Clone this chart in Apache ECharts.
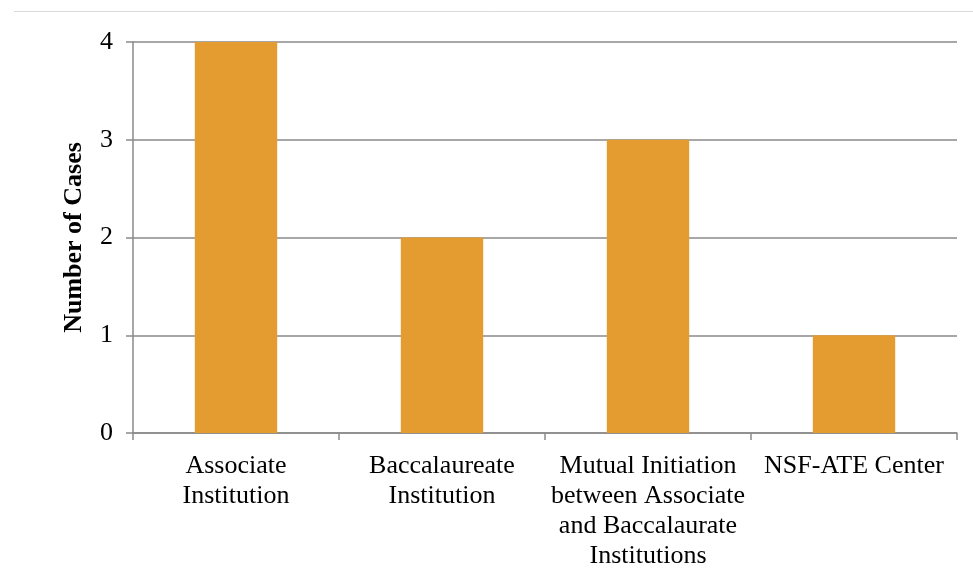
<!DOCTYPE html>
<html>
<head>
<meta charset="utf-8">
<script src="https://cdn.jsdelivr.net/npm/echarts@6/dist/echarts.min.js"></script>
<style>
  html, body { margin: 0; padding: 0; background: #fff; }
  #chart { width: 973px; height: 581px; }
</style>
</head>
<body>
<div id="chart"></div>
<script>
// Initiating party of each case
const categories = [
  'Associate\nInstitution',
  'Baccalaureate\nInstitution',
  'Mutual Initiation\nbetween Associate\nand Baccalaurate\nInstitutions',
  'NSF-ATE Center'
];
const caseCounts = [4, 2, 3, 1];
const yTicks = { min: 0, max: 4, interval: 1 };

const chart = echarts.init(document.getElementById('chart'));
const serif = '"Liberation Serif", "Times New Roman", serif';
const axisGrey = '#8a8a8a';

chart.setOption({
  animation: false,
  backgroundColor: '#fff',
  graphic: [{
    type: 'line',
    shape: { x1: 14, y1: 11.5, x2: 973, y2: 11.5 },
    style: { stroke: '#d9d9d9', lineWidth: 1 }
  }],
  grid: { left: 133, right: 16, top: 42, bottom: 148 },
  xAxis: {
    type: 'category',
    data: categories,
    axisLine: { lineStyle: { color: axisGrey, width: 1.5 } },
    axisTick: { show: true, length: 7, alignWithLabel: false, lineStyle: { color: axisGrey, width: 1.5 } },
    axisLabel: {
      interval: 0,
      color: '#000',
      fontFamily: serif,
      fontSize: 26,
      lineHeight: 30,
      margin: 18
    }
  },
  yAxis: {
    type: 'value',
    min: yTicks.min,
    max: yTicks.max,
    interval: yTicks.interval,
    name: 'Number of Cases',
    nameLocation: 'middle',
    nameGap: 46,
    nameRotate: 90,
    nameTextStyle: { color: '#000', fontFamily: serif, fontSize: 26, fontWeight: 'bold' },
    axisLine: { show: true, lineStyle: { color: axisGrey, width: 1.5 } },
    axisTick: { show: true, length: 7, lineStyle: { color: axisGrey, width: 1.5 } },
    axisLabel: { color: '#000', fontFamily: serif, fontSize: 26, margin: 20 },
    splitLine: { show: true, lineStyle: { color: axisGrey, width: 1.5 } }
  },
  series: [{
    type: 'bar',
    data: caseCounts,
    barWidth: '40%',
    itemStyle: { color: '#E49B30' }
  }]
});
</script>
</body>
</html>
